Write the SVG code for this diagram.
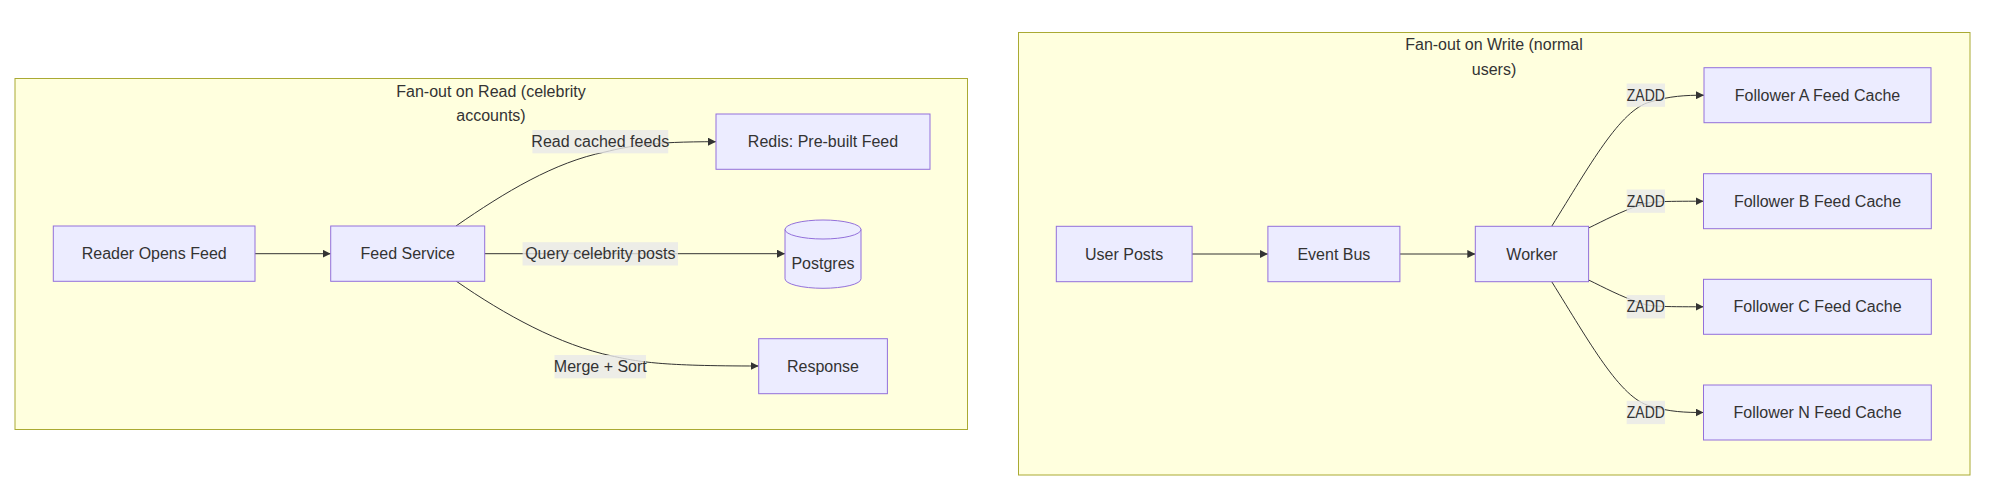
<svg xmlns="http://www.w3.org/2000/svg" width="1999" height="501" viewBox="0 0 1999 501">
<style>
.cluster{fill:#ffffde;stroke:#aaaa33;stroke-width:1}
.node{fill:#ececff;stroke:#9370db;stroke-width:1}
.t{font-family:"Liberation Sans",Arial,sans-serif;font-size:16px;fill:#333;text-anchor:middle;dominant-baseline:central}
.edge{fill:none;stroke:#333;stroke-width:1;marker-end:url(#arrow)}
.lbg{fill:#e8e8e8;fill-opacity:0.8}
</style>
<defs>
<marker id="arrow" viewBox="0 0 10 10" refX="10" refY="5" markerWidth="8" markerHeight="8" markerUnits="userSpaceOnUse" orient="auto">
<path d="M0,0 L10,5 L0,10 z" fill="#333"/>
</marker>
</defs>
<rect width="1999" height="501" fill="#fff"/>
<g id="cluster-read">
<rect class="cluster" x="15" y="78.5" width="952.5" height="351"/>
<text class="t" x="491" y="91">Fan-out on Read (celebrity</text>
<text class="t" x="491" y="115">accounts)</text>
</g>
<g id="cluster-write">
<rect class="cluster" x="1018.5" y="32.5" width="951.5" height="442.5"/>
<text class="t" x="1494" y="44.5">Fan-out on Write (normal</text>
<text class="t" x="1494" y="69">users)</text>
</g>
<g id="connectors">
<path class="edge" d="M255,253.7 L330.7,253.7"/>
<path class="edge" d="M456,226 C505,192 555,162 605,152 C630,146 650,141.7 716,141.7"/>
<path class="edge" d="M484.7,253.7 L785,253.7"/>
<path class="edge" d="M456,281 C505,315 560,345 612,356 C640,362 660,366 758.7,366"/>
<path class="edge" d="M1192.1,254 L1267.9,254"/>
<path class="edge" d="M1399.9,254 L1475.3,254"/>
<path class="edge" d="M1551.7,226.3 C1590,165 1620,110 1650,102 C1670,96 1685,95.2 1704,95.2"/>
<path class="edge" d="M1588.6,228 C1605,220 1620,212 1640,205 C1650,201.5 1660,201.2 1703.5,201.2"/>
<path class="edge" d="M1588.6,280 C1605,288 1620,296 1640,303 C1650,306.5 1660,306.8 1703.5,306.8"/>
<path class="edge" d="M1551.7,281.7 C1590,343 1620,398 1650,406 C1670,412 1685,412.5 1703.5,412.5"/>
<g id="edge-labels">
<rect class="lbg" x="532.4" y="130" width="135.8" height="23.3"/>
<text class="t" x="600.3" y="141.7">Read cached feeds</text>
<rect class="lbg" x="522.6" y="242.2" width="155.4" height="23.3"/>
<text class="t" x="600.3" y="253.8">Query celebrity posts</text>
<rect class="lbg" x="554.5" y="355" width="91.5" height="23.3"/>
<text class="t" x="600.3" y="366.7">Merge + Sort</text>
<rect class="lbg" x="1626.7" y="83.5" width="38.3" height="23.3"/>
<text class="t" x="1645.8" y="95.2" textLength="38" lengthAdjust="spacingAndGlyphs">ZADD</text>
<rect class="lbg" x="1626.7" y="189.5" width="38.3" height="23.3"/>
<text class="t" x="1645.8" y="201.2" textLength="38" lengthAdjust="spacingAndGlyphs">ZADD</text>
<rect class="lbg" x="1626.7" y="295.1" width="38.3" height="23.3"/>
<text class="t" x="1645.8" y="306.8" textLength="38" lengthAdjust="spacingAndGlyphs">ZADD</text>
<rect class="lbg" x="1626.7" y="400.8" width="38.3" height="23.3"/>
<text class="t" x="1645.8" y="412.5" textLength="38" lengthAdjust="spacingAndGlyphs">ZADD</text>
</g>
</g>
<g id="node-reader">
<rect class="node" x="53.3" y="226" width="201.7" height="55.3"/>
<text class="t" x="154.2" y="253.7">Reader Opens Feed</text>
</g>
<g id="node-feed">
<rect class="node" x="330.7" y="226" width="154" height="55.3"/>
<text class="t" x="407.7" y="253.7">Feed Service</text>
</g>
<g id="node-redis">
<rect class="node" x="716" y="114" width="214" height="55.3"/>
<text class="t" x="823" y="141.7">Redis: Pre-built Feed</text>
</g>
<g id="node-postgres">
<path class="node" d="M785,229.5 a38,9.5 0 0 0 76,0 a38,9.5 0 0 0 -76,0 l0,49.3 a38,9.5 0 0 0 76,0 l0,-49.3"/>
<text class="t" x="823" y="263.3">Postgres</text>
</g>
<g id="node-response">
<rect class="node" x="758.7" y="338.7" width="128.7" height="55"/>
<text class="t" x="823" y="366.2">Response</text>
</g>
<g id="node-userposts">
<rect class="node" x="1056.3" y="226.3" width="135.8" height="55.4"/>
<text class="t" x="1124.2" y="254">User Posts</text>
</g>
<g id="node-eventbus">
<rect class="node" x="1267.9" y="226.3" width="132" height="55.4"/>
<text class="t" x="1333.9" y="254">Event Bus</text>
</g>
<g id="node-worker">
<rect class="node" x="1475.3" y="226.3" width="113.3" height="55.4"/>
<text class="t" x="1532" y="254">Worker</text>
</g>
<g id="node-followerA">
<rect class="node" x="1704" y="67.7" width="227" height="55"/>
<text class="t" x="1817.5" y="95.2">Follower A Feed Cache</text>
</g>
<g id="node-followerB">
<rect class="node" x="1703.5" y="173.7" width="227.8" height="55"/>
<text class="t" x="1817.5" y="201.2">Follower B Feed Cache</text>
</g>
<g id="node-followerC">
<rect class="node" x="1703.5" y="279.3" width="227.8" height="55"/>
<text class="t" x="1817.5" y="306.8">Follower C Feed Cache</text>
</g>
<g id="node-followerN">
<rect class="node" x="1703.5" y="385" width="227.8" height="55"/>
<text class="t" x="1817.5" y="412.5">Follower N Feed Cache</text>
</g>
</svg>
